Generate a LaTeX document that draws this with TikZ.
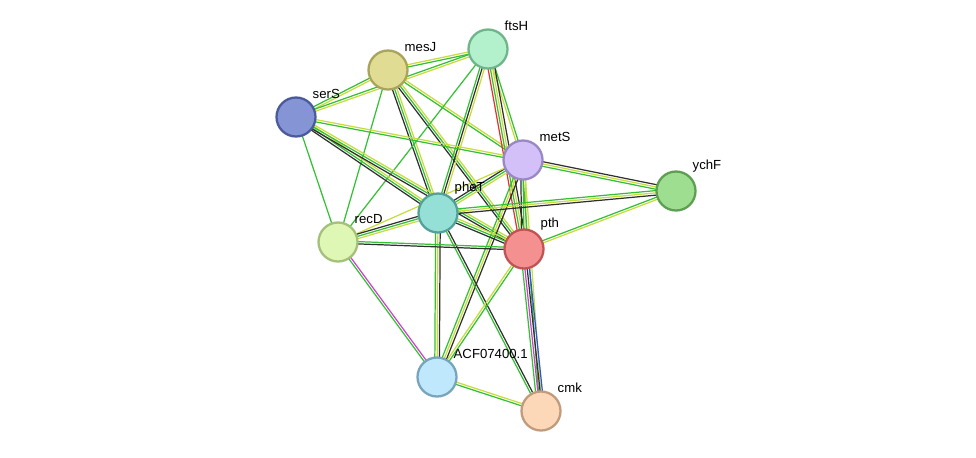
\documentclass[tikz,border=0pt]{standalone}
\usepackage{fontspec}
\setmainfont{Liberation Sans}
\usetikzlibrary{calc,backgrounds}
\definecolor{cG}{HTML}{33C033}
\definecolor{cY}{HTML}{C8DC3C}
\definecolor{cK}{HTML}{303030}
\definecolor{cM}{HTML}{D040D0}
\definecolor{cR}{HTML}{E83030}
\definecolor{cB}{HTML}{3050E0}
\definecolor{fMesJ}{HTML}{E0DC94}\definecolor{dMesJ}{HTML}{A8A45C}
\definecolor{fFtsH}{HTML}{B3F0CC}\definecolor{dFtsH}{HTML}{6FB58A}
\definecolor{fSerS}{HTML}{8494D4}\definecolor{dSerS}{HTML}{4A5A9A}
\definecolor{fMetS}{HTML}{D4C0F8}\definecolor{dMetS}{HTML}{9A88C4}
\definecolor{fYchF}{HTML}{9EDE90}\definecolor{dYchF}{HTML}{5E9E52}
\definecolor{fPheT}{HTML}{94E0D6}\definecolor{dPheT}{HTML}{55A098}
\definecolor{fRecD}{HTML}{DEF7B4}\definecolor{dRecD}{HTML}{A4C07A}
\definecolor{fPth}{HTML}{F49090}\definecolor{dPth}{HTML}{C05454}
\definecolor{fAcf}{HTML}{C0E8FC}\definecolor{dAcf}{HTML}{78A4BC}
\definecolor{fCmk}{HTML}{FCD8B8}\definecolor{dCmk}{HTML}{C09C7C}
\tikzset{
  prot/.style={circle,minimum size=0.78cm,inner sep=0pt,line width=1.3pt,fill=f#1,draw=d#1},
  lbl/.style={font=\fontsize{7.5}{9}\selectfont,anchor=south west,inner sep=0pt,xshift=1pt,yshift=2pt},
  wire/.style={line width=0.7pt}
}
% #1,#2 end nodes, #3 number of lines, #4 colours
\newcommand\lnk[4]{%
  \foreach \c [count=\i] in {#4} {
    \pgfmathsetmacro\o{(\i-(#3+1)/2)*1.3}
    \draw[wire,\c] ($(#1.center)!\o pt!90:(#2.center)$) -- ($(#2.center)!\o pt!-90:(#1.center)$);
  }}
\begin{document}
\begin{tikzpicture}[x=0.02cm,y=-0.02cm]
\useasboundingbox (0,0) rectangle (976,457);
% proteins
\node[prot=MesJ,label={[lbl]45:mesJ}] (mesJ) at (388,70) {};
\node[prot=FtsH,label={[lbl]45:ftsH}] (ftsH) at (488,49) {};
\node[prot=SerS,label={[lbl]45:serS}] (serS) at (296,117) {};
\node[prot=MetS,label={[lbl]45:metS}] (metS) at (523,160) {};
\node[prot=YchF,label={[lbl]45:ychF}] (ychF) at (676,191) {};
\node[prot=PheT,label={[lbl]45:pheT}] (pheT) at (438,213) {};
\node[prot=RecD,label={[lbl]45:recD}] (recD) at (338,242) {};
\node[prot=Pth,label={[lbl]45:pth}] (pth) at (524,249) {};
\node[prot=Acf,label={[lbl]45:ACF07400.1}] (acf) at (437,377) {};
\node[prot=Cmk,label={[lbl]45:cmk}] (cmk) at (541,411) {};
% evidence lines
\begin{pgfonlayer}{background}
\lnk{mesJ}{ftsH}{2}{cG,cY}
\lnk{mesJ}{serS}{2}{cG,cY}
\lnk{mesJ}{metS}{2}{cG,cY}
\lnk{mesJ}{pheT}{3}{cK,cG,cY}
\lnk{mesJ}{pth}{3}{cK,cG,cY}
\lnk{mesJ}{recD}{1}{cG}
\lnk{ftsH}{serS}{2}{cG,cY}
\lnk{ftsH}{metS}{2}{cY,cG}
\lnk{ftsH}{pheT}{3}{cG,cK,cY}
\lnk{ftsH}{pth}{4}{cR,cG,cY,cK}
\lnk{ftsH}{recD}{1}{cG}
\lnk{serS}{metS}{2}{cG,cY}
\lnk{serS}{pheT}{3}{cK,cG,cY}
\lnk{serS}{pth}{3}{cK,cG,cY}
\lnk{serS}{recD}{1}{cG}
\lnk{metS}{ychF}{3}{cG,cY,cK}
\lnk{metS}{pheT}{3}{cK,cG,cY}
\lnk{metS}{pth}{3}{cK,cG,cY}
\lnk{metS}{recD}{1}{cY}
\lnk{metS}{acf}{3}{cG,cY,cK}
\lnk{metS}{cmk}{2}{cG,cY}
\lnk{ychF}{pheT}{3}{cG,cY,cK}
\lnk{ychF}{pth}{2}{cG,cY}
\lnk{pheT}{pth}{3}{cK,cG,cY}
\lnk{pheT}{recD}{3}{cK,cG,cY}
\lnk{pheT}{acf}{3}{cG,cY,cK}
\lnk{pheT}{cmk}{2}{cG,cK}
\lnk{recD}{pth}{2}{cK,cG}
\lnk{recD}{acf}{2}{cG,cM}
\lnk{pth}{acf}{2}{cY,cG}
\lnk{pth}{cmk}{4}{cG,cM,cK,cB}
\lnk{acf}{cmk}{2}{cG,cY}
\end{pgfonlayer}
\end{tikzpicture}
\end{document}
